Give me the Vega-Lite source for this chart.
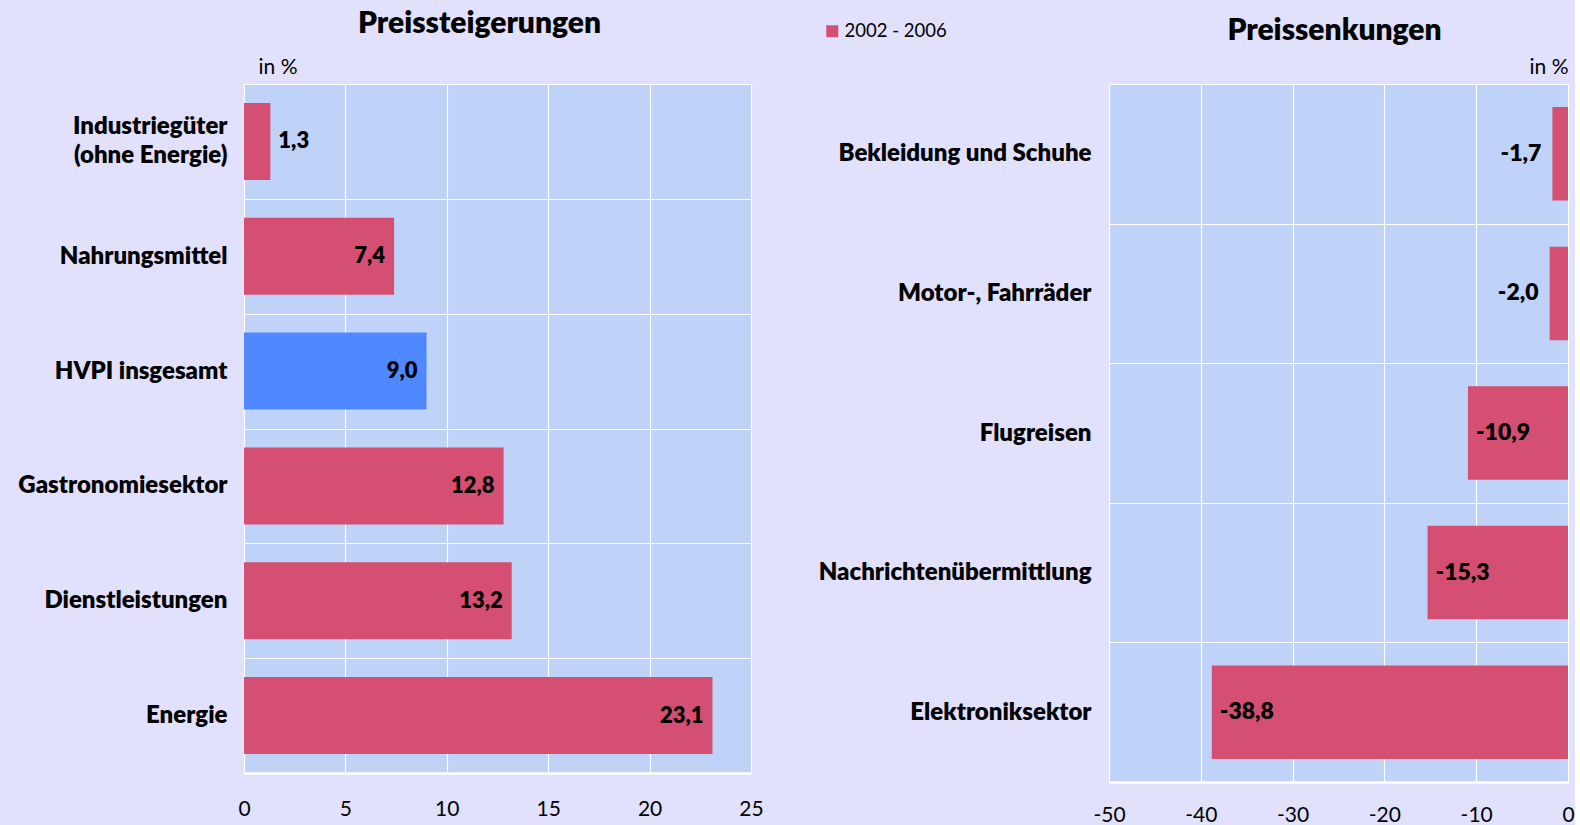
{
  "$schema": "https://vega.github.io/schema/vega-lite/v6.json",
  "background": "#E1E1FD",
  "padding": {"left": 0, "top": 8, "right": 0, "bottom": 0},
  "bounds": "flush",
  "spacing": 358,
  "config": {
    "view": {"fill": "#BFD2F8", "stroke": null},
    "font": "Lato",
    "locale": {"number": {"decimal": ",", "thousands": ".", "grouping": [3], "currency": ["", " €"], "minus": "-"}},
    "axis": {"labelColor": "#000000", "titleColor": "#000000", "gridColor": "#FFFFFF", "gridOpacity": 1, "gridWidth": 1.2, "ticks": false, "labelLimit": 400},
    "title": {"color": "#000000", "fontSize": 30, "fontWeight": 800, "font": "Lato"}
  },
  "datasets": {
    "up": [
      {"Kategorie": "Industriegüter (ohne Energie)", "Wert": 1.3, "Zeitraum": "2002 - 2006"},
      {"Kategorie": "Nahrungsmittel", "Wert": 7.4, "Zeitraum": "2002 - 2006"},
      {"Kategorie": "HVPI insgesamt", "Wert": 9.0, "Zeitraum": "2002 - 2006"},
      {"Kategorie": "Gastronomiesektor", "Wert": 12.8, "Zeitraum": "2002 - 2006"},
      {"Kategorie": "Dienstleistungen", "Wert": 13.2, "Zeitraum": "2002 - 2006"},
      {"Kategorie": "Energie", "Wert": 23.1, "Zeitraum": "2002 - 2006"}
    ],
    "down": [
      {"Kategorie": "Bekleidung und Schuhe", "Wert": -1.7, "Zeitraum": "2002 - 2006"},
      {"Kategorie": "Motor-, Fahrräder", "Wert": -2.0, "Zeitraum": "2002 - 2006"},
      {"Kategorie": "Flugreisen", "Wert": -10.9, "Zeitraum": "2002 - 2006"},
      {"Kategorie": "Nachrichtenübermittlung", "Wert": -15.3, "Zeitraum": "2002 - 2006"},
      {"Kategorie": "Elektroniksektor", "Wert": -38.8, "Zeitraum": "2002 - 2006"}
    ]
  },
  "hconcat": [
    {
      "width": 507,
      "height": 689,
      "data": {"name": "up"},
      "title": {"text": "Preissteigerungen", "dx": -18, "offset": 18},
      "encoding": {
        "y": {
          "field": "Kategorie", "type": "nominal", "sort": null,
          "scale": {"paddingInner": 0, "paddingOuter": 0},
          "axis": {
            "title": null, "domain": false, "grid": true, "tickBand": "extent",
            "labelFontSize": 24, "labelFontWeight": 800, "labelPadding": 17,
            "labelLineHeight": 29, "minExtent": 244, "maxExtent": 244,
            "labelOffset": {"condition": {"test": "datum.value == 'Industriegüter (ohne Energie)'", "value": -15}, "value": 0},
            "labelExpr": "datum.value == 'Industriegüter (ohne Energie)' ? ['Industriegüter', '(ohne Energie)'] : datum.value"
          }
        },
        "x": {
          "field": "Wert", "type": "quantitative",
          "scale": {"domain": [0, 25], "nice": false},
          "axis": {
            "values": [0, 5, 10, 15, 20, 25], "format": "d", "grid": true, "labelFlush": false,
            "domain": true, "domainColor": "#FFFFFF", "domainWidth": 2.5,
            "labelFontSize": 21, "labelPadding": 25,
            "title": "in %", "titleX": 14, "titleY": -705.5, "titleAlign": "left", "titleBaseline": "middle",
            "titleFontSize": 21, "titleFontWeight": "normal"
          }
        }
      },
      "layer": [
        {
          "mark": {"type": "bar", "height": {"band": 0.67}},
          "encoding": {
            "color": {
              "condition": {"test": "datum.Kategorie == 'HVPI insgesamt'", "value": "#4F88FF"},
              "field": "Zeitraum", "type": "nominal",
              "scale": {"domain": ["2002 - 2006"], "range": ["#D44F71"]},
              "legend": {"orient": "none", "legendX": 579, "legendY": -62, "title": null, "symbolType": "square", "symbolSize": 144, "symbolStrokeWidth": 0, "symbolOpacity": 1, "labelFontSize": 18.5, "labelColor": "#000000", "labelOffset": 3, "padding": 0}
            }
          }
        },
        {
          "transform": [{"filter": "datum.Wert >= 3"}],
          "mark": {"type": "text", "align": "right", "dx": -9, "fontSize": 22, "fontWeight": 800, "color": "#000000"},
          "encoding": {"text": {"field": "Wert", "type": "quantitative", "format": ".1f"}}
        },
        {
          "transform": [{"filter": "datum.Wert < 3"}],
          "mark": {"type": "text", "align": "left", "dx": 8, "fontSize": 22, "fontWeight": 800, "color": "#000000"},
          "encoding": {"text": {"field": "Wert", "type": "quantitative", "format": ".1f"}}
        }
      ]
    },
    {
      "width": 459,
      "height": 698,
      "data": {"name": "down"},
      "title": {"text": "Preissenkungen", "dx": -4, "offset": 11},
      "encoding": {
        "y": {
          "field": "Kategorie", "type": "nominal", "sort": null,
          "scale": {"paddingInner": 0, "paddingOuter": 0},
          "axis": {
            "title": null, "domain": false, "grid": true, "tickBand": "extent",
            "labelFontSize": 24, "labelFontWeight": 800, "labelPadding": 18
          }
        },
        "x": {
          "field": "Wert", "type": "quantitative",
          "scale": {"domain": [-50, 0], "nice": false},
          "axis": {
            "values": [-50, -40, -30, -20, -10, 0], "format": "d", "grid": true, "labelFlush": false,
            "domain": true, "domainColor": "#FFFFFF", "domainWidth": 2.5,
            "labelFontSize": 21, "labelPadding": 22,
            "title": "in %", "titleX": 459, "titleY": -714.5, "titleAlign": "right", "titleBaseline": "middle",
            "titleFontSize": 21, "titleFontWeight": "normal"
          }
        }
      },
      "layer": [
        {
          "mark": {"type": "bar", "height": {"band": 0.67}},
          "encoding": {
            "color": {
              "field": "Zeitraum", "type": "nominal",
              "scale": {"domain": ["2002 - 2006"], "range": ["#D44F71"]},
              "legend": {"orient": "none", "legendX": 579, "legendY": -62, "title": null, "symbolType": "square", "symbolSize": 144, "symbolStrokeWidth": 0, "symbolOpacity": 1, "labelFontSize": 18.5, "labelColor": "#000000", "labelOffset": 3, "padding": 0}
            }
          }
        },
        {
          "transform": [{"filter": "datum.Wert > -5"}],
          "mark": {"type": "text", "align": "right", "dx": -11, "fontSize": 23, "fontWeight": 800, "color": "#000000"},
          "encoding": {"text": {"field": "Wert", "type": "quantitative", "format": ".1f"}}
        },
        {
          "transform": [{"filter": "datum.Wert <= -5"}],
          "mark": {"type": "text", "align": "left", "dx": 8, "fontSize": 23, "fontWeight": 800, "color": "#000000"},
          "encoding": {"text": {"field": "Wert", "type": "quantitative", "format": ".1f"}}
        }
      ]
    }
  ]
}
